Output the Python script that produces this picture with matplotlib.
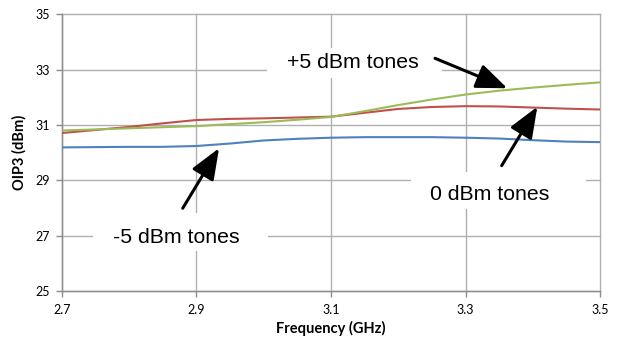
import matplotlib
matplotlib.use("Agg")
import matplotlib.pyplot as plt
from matplotlib.patches import Rectangle

freq = [2.70, 2.75, 2.80, 2.85, 2.90, 2.95, 3.00, 3.05, 3.10, 3.15, 3.20,
        3.25, 3.30, 3.35, 3.40, 3.45, 3.50]
oip3_m5 = [30.19, 30.20, 30.21, 30.21, 30.24, 30.33, 30.44, 30.50, 30.54,
           30.56, 30.56, 30.56, 30.54, 30.51, 30.45, 30.40, 30.38]
oip3_0 = [30.71, 30.82, 30.93, 31.06, 31.18, 31.22, 31.24, 31.27, 31.30,
          31.44, 31.58, 31.65, 31.68, 31.67, 31.63, 31.59, 31.56]
oip3_p5 = [30.80, 30.84, 30.88, 30.92, 30.96, 31.03, 31.10, 31.19, 31.29,
           31.50, 31.72, 31.92, 32.10, 32.24, 32.35, 32.45, 32.54]
xticks = [2.7, 2.9, 3.1, 3.3, 3.5]
yticks = [25, 27, 29, 31, 33, 35]
labels = ["-5 dBm tones", "0 dBm tones", "+5 dBm tones"]

fig = plt.figure(figsize=(6.21, 3.41), dpi=100)
ax = fig.add_axes([62/621, 1-291/341, (600-62)/621, (291-14.3)/341])

grid_c = "#b0b0b0"
ax.set_xlim(2.7, 3.5)
ax.set_ylim(25, 35)
ax.set_xticks(xticks)
ax.set_yticks(yticks)
ax.set_xticklabels([f"{v:.1f}" for v in xticks])
ax.set_yticklabels([str(v) for v in yticks])
ax.grid(True, color=grid_c, linewidth=1.0, zorder=0)
for gl in ax.get_xgridlines() + ax.get_ygridlines():
    gl.set_clip_on(False)
ax.set_axisbelow(True)
for s in ["top", "right"]:
    ax.spines[s].set_visible(False)
for s in ["left", "bottom"]:
    ax.spines[s].set_color("#8c8c8c")
    ax.spines[s].set_linewidth(1.0)
ax.tick_params(axis="both", direction="out", length=4, width=1.0,
               color="#8c8c8c", labelsize=9, pad=5)
for lab in ax.get_xticklabels() + ax.get_yticklabels():
    lab.set_family("Lato")
ax.set_xlabel("Frequency (GHz)", family="Lato", fontweight="bold",
              fontsize=10.5, labelpad=4)
ax.set_ylabel("OIP3 (dBm)", family="Lato", fontweight="bold",
              fontsize=10.5, labelpad=6)

ax.plot(freq, oip3_m5, color="#4F81BD", lw=1.5, zorder=3)
ax.plot(freq, oip3_0, color="#C0504D", lw=1.5, zorder=3)
ax.plot(freq, oip3_p5, color="#9BBB59", lw=1.5, zorder=3)

# white label boxes (hide gridlines)
boxes = [(2.746, 26.45, 0.260, 1.37), (3.219, 27.97, 0.260, 1.33),
         (3.005, 32.71, 0.260, 1.07)]
for (bx, by, bw, bh) in boxes:
    ax.add_patch(Rectangle((bx, by), bw, bh, facecolor="white",
                           edgecolor="none", zorder=1))

text_pos = [(2.870, 26.94), (3.336, 28.47), (3.132, 33.26)]
for (tx, ty), lab in zip(text_pos, labels):
    ax.text(tx, ty, lab, ha="center", va="center", fontsize=15.3,
            family="Liberation Sans", zorder=4)

arrows = [((2.8795, 27.99), (2.9335, 30.16)),
          ((3.3538, 29.53), (3.4068, 31.66)),
          ((3.2547, 33.41), (3.3622, 32.327))]
for tail, tip in arrows:
    ax.annotate("", xy=tip, xytext=tail,
                arrowprops=dict(arrowstyle="-|>,head_length=0.95,head_width=0.38",
                                mutation_scale=20, lw=2.2, color="black",
                                shrinkA=0, shrinkB=0), zorder=5)

fig.savefig("out.png", dpi=100)
